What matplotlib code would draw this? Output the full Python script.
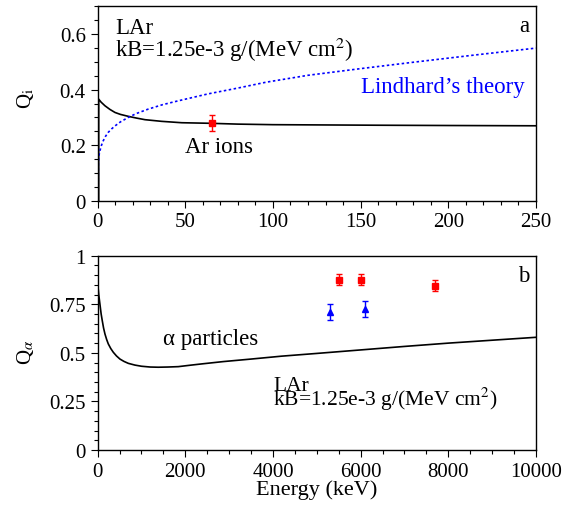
import matplotlib
matplotlib.use("Agg")
import matplotlib.pyplot as plt
from matplotlib.ticker import MultipleLocator

plt.rcParams['font.family'] = ['Liberation Serif', 'DejaVu Serif']
plt.rcParams['mathtext.fontset'] = 'stix'

# panel a: ion quenching vs energy (keV)
ion_e = [0.6, 0.6, 2, 4.2, 7, 9.9, 13, 17.5, 22, 27, 36.5, 48, 64, 80, 100, 130, 160, 200, 250]
ion_q = [0.0, 0.366, 0.355, 0.342, 0.329, 0.318, 0.311, 0.304, 0.298, 0.292, 0.286, 0.281,
         0.279, 0.276, 0.274, 0.273, 0.272, 0.271, 0.270]
lind_e = [0.25, 0.4, 0.8, 1.3, 2.2, 3.2, 4.5, 6, 8, 10, 13, 17.4, 22, 28.8, 37, 46, 63, 80, 96,
          120, 150, 180, 215, 250]
lind_q = [0.0, 0.14, 0.165, 0.18, 0.2, 0.216, 0.232, 0.246, 0.259, 0.27, 0.284, 0.30, 0.314,
          0.33, 0.346, 0.36, 0.385, 0.406, 0.427, 0.452, 0.476, 0.499, 0.525, 0.55]
ar_e = [65]
ar_q = [0.28]
ar_err = [0.03]

# panel b: alpha quenching vs energy (keV)
alpha_e = [0, 25, 52, 80, 106, 135, 167, 205, 243, 300, 357, 430, 509, 600, 699, 850, 1002,
           1200, 1383, 1600, 1840, 2100, 2372, 2866, 3500, 4200, 5000, 6000, 7000, 8000,
           9000, 10000]
alpha_q = [0.86, 0.80, 0.751, 0.70, 0.665, 0.628, 0.597, 0.569, 0.546, 0.522, 0.503, 0.484,
           0.468, 0.456, 0.446, 0.437, 0.431, 0.427, 0.426, 0.427, 0.429, 0.436, 0.443,
           0.455, 0.468, 0.483, 0.497, 0.515, 0.533, 0.550, 0.565, 0.580]
red_e = [5500, 6000, 7700]
red_q = [0.877, 0.877, 0.846]
red_err = [0.03, 0.03, 0.03]
blue_e = [5300, 6100]
blue_q = [0.709, 0.726]
blue_err = [0.04, 0.04]

fig = plt.figure(figsize=(5.71, 5.06), dpi=100)
ax1 = fig.add_axes([0.171, 0.6014, 0.7676, 0.3838])
ax2 = fig.add_axes([0.171, 0.1087, 0.7676, 0.384])

for ax in (ax1, ax2):
    ax.tick_params(which='both', direction='out', top=False, right=False, labelsize=15, width=0.8)
    ax.tick_params(which='major', length=5)
    ax.tick_params(which='minor', length=3)
    for s in ax.spines.values():
        s.set_linewidth(1.0)

# top panel
ax1.plot(ion_e, ion_q, color='black', lw=1.2)
ax1.plot(lind_e, lind_q, color='blue', lw=1.2, linestyle=(0, (1.5, 1.5)))
ax1.errorbar(ar_e, ar_q, yerr=ar_err, fmt='s', color='red', ms=4, capsize=2.5, elinewidth=1)
ax1.set_xlim(0, 250)
ax1.set_ylim(0, 0.7)
ax1.xaxis.set_major_locator(MultipleLocator(50))
ax1.xaxis.set_minor_locator(MultipleLocator(10))
ax1.yaxis.set_minor_locator(MultipleLocator(0.05))
ax1.set_yticks([0, 0.2, 0.4, 0.6])
ax1.set_yticklabels(['0', '0.2', '0.4', '0.6'])
ax1.set_ylabel(r'Q$_\mathrm{i}$', fontsize=15)
ax1.yaxis.set_label_coords(-0.14, 0.53)
ax1.text(10, 0.605, 'LAr', fontsize=16.5)
ax1.text(10, 0.523, r'kB=1.25e-3 g/(MeV cm$^2$)', fontsize=16.5)
ax1.text(0.984, 0.875, 'a', transform=ax1.transAxes, ha='right', fontsize=16.5)
ax1.text(0.975, 0.558, 'Lindhard\u2019s theory', transform=ax1.transAxes, ha='right',
         color='blue', fontsize=16.5)
ax1.text(69, 0.174, 'Ar ions', ha='center', fontsize=16.5)

# bottom panel
ax2.plot(alpha_e, alpha_q, color='black', lw=1.2)
ax2.errorbar(red_e, red_q, yerr=red_err, fmt='s', color='red', ms=4, capsize=2.5, elinewidth=1)
ax2.errorbar(blue_e, blue_q, yerr=blue_err, fmt='^', color='blue', ms=4, capsize=2.5, elinewidth=1)
ax2.set_xlim(0, 10000)
ax2.set_ylim(0, 1)
ax2.xaxis.set_major_locator(MultipleLocator(2000))
ax2.xaxis.set_minor_locator(MultipleLocator(500))
ax2.yaxis.set_minor_locator(MultipleLocator(0.05))
ax2.set_yticks([0, 0.25, 0.5, 0.75, 1])
ax2.set_yticklabels(['0', '0.25', '0.5', '0.75', '1'])
ax2.set_ylabel(r'Q$_\alpha$', fontsize=15)
ax2.yaxis.set_label_coords(-0.14, 0.507)
ax2.set_xlabel('Energy (keV)', fontsize=16, labelpad=-1)
ax2.text(1500, 0.545, '\u03b1 particles', fontsize=16.5)
ax2.text(4000, 0.307, 'LAr', fontsize=15.5)
ax2.text(4000, 0.235, r'kB=1.25e-3 g/(MeV cm$^2$)', fontsize=15.5)
ax2.text(0.984, 0.871, 'b', transform=ax2.transAxes, ha='right', fontsize=16.5)

fig.savefig('out.png', dpi=100)
